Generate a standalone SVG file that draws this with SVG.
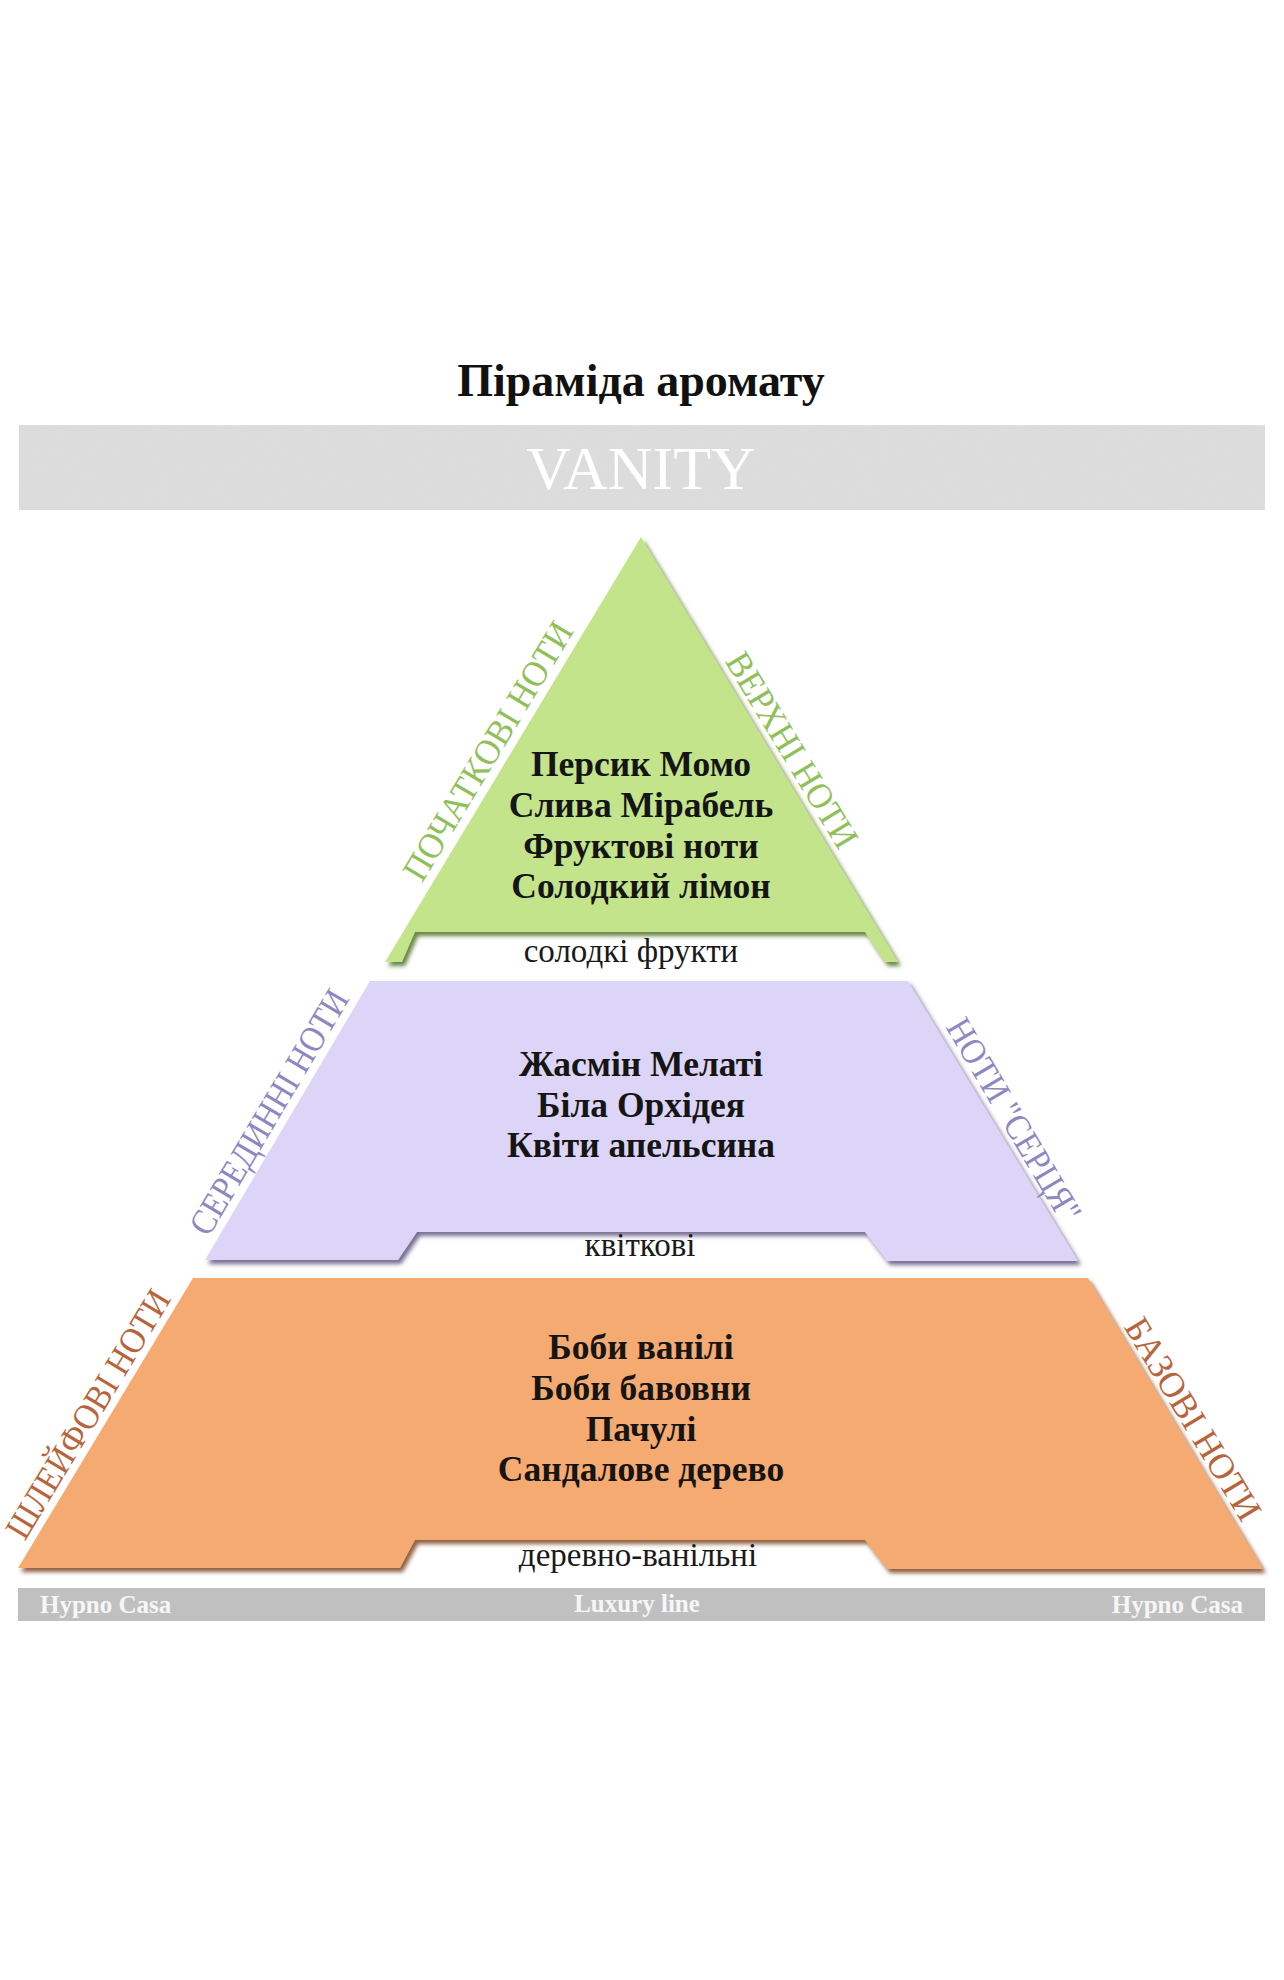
<svg xmlns="http://www.w3.org/2000/svg" width="1284" height="1980" viewBox="0 0 1284 1980">
<defs>
<style>
.title{font-family:"Liberation Serif",serif;font-weight:bold;font-size:46px;fill:#111;text-anchor:middle}
.brand{font-family:"Liberation Serif",serif;font-size:62px;fill:#fff;text-anchor:middle}
.notes{font-family:"Liberation Serif",serif;font-weight:bold;font-size:35.5px;fill:#151515;text-anchor:middle}
.sub{font-family:"Liberation Serif",serif;font-size:33px;fill:#1a1a1a;text-anchor:middle}
.side{font-family:"Liberation Serif",serif;font-size:36px;text-anchor:middle}
.foot{font-family:"Liberation Serif",serif;font-weight:bold;font-size:25px;fill:#f6f6f6}
</style>
<filter id="shG" x="-5%" y="-5%" width="115%" height="115%"><feDropShadow dx="3" dy="4" stdDeviation="2" flood-color="#4d6e26" flood-opacity="0.85"/></filter>
<filter id="shP" x="-5%" y="-5%" width="115%" height="115%"><feDropShadow dx="3" dy="4" stdDeviation="2" flood-color="#5f577f" flood-opacity="0.85"/></filter>
<filter id="shO" x="-5%" y="-5%" width="115%" height="115%"><feDropShadow dx="3" dy="4" stdDeviation="2" flood-color="#7a4220" flood-opacity="0.85"/></filter>
<filter id="noise" x="0" y="0" width="100%" height="100%">
<feTurbulence type="fractalNoise" baseFrequency="0.9" numOctaves="2" seed="3" result="n"/>
<feColorMatrix in="n" type="matrix" values="0 0 0 0 0.8  0 0 0 0 0.8  0 0 0 0 0.8  0 0 0 0.35 0" result="g"/>
<feComposite in="g" in2="SourceGraphic" operator="in" result="gi"/>
<feMerge><feMergeNode in="SourceGraphic"/><feMergeNode in="gi"/></feMerge>
</filter>
</defs>
<rect width="1284" height="1980" fill="#fff"/>

<g id="title">
<text class="title" x="641" y="396">Піраміда аромату</text>
</g>

<g id="banner">
<rect x="19" y="425" width="1246" height="85" fill="#dadada" filter="url(#noise)"/>
<text class="brand" x="641" y="489">VANITY</text>
</g>

<g id="top-notes">
<polygon points="641,537 898,962 885,962 865,932 415,932 402,962 385,962" fill="#c4e48b" filter="url(#shG)"/>
<text class="notes" x="641" y="776">Персик Момо</text>
<text class="notes" x="641" y="817">Слива Мірабель</text>
<text class="notes" x="641" y="858">Фруктові ноти</text>
<text class="notes" x="641" y="898">Солодкий лімон</text>
<text class="sub" x="631" y="962">солодкі фрукти</text>
<text class="side" fill="#8fc05a" transform="translate(488,751) rotate(-58.9)" y="12" textLength="295" lengthAdjust="spacingAndGlyphs">ПОЧАТКОВІ НОТИ</text>
<text class="side" fill="#8fc05a" transform="translate(792,750) rotate(58.9)" y="12" textLength="222" lengthAdjust="spacingAndGlyphs">ВЕРХНІ НОТИ</text>
</g>

<g id="heart-notes">
<polygon points="370,981 908,981 1078,1261 887,1261 865,1232 417,1232 398,1260 205,1260" fill="#ddd5f7" filter="url(#shP)"/>
<text class="notes" x="641" y="1076">Жасмін Мелаті</text>
<text class="notes" x="641" y="1117">Біла Орхідея</text>
<text class="notes" x="641" y="1157">Квіти апельсина</text>
<text class="sub" x="640" y="1256">квіткові</text>
<text class="side" fill="#8c88c2" transform="translate(269,1112) rotate(-59.4)" y="12" textLength="278" lengthAdjust="spacingAndGlyphs">СЕРЕДИННІ НОТИ</text>
<text class="side" fill="#8c88c2" transform="translate(1014,1120) rotate(59.4)" y="12" textLength="230" lengthAdjust="spacingAndGlyphs">НОТИ "СЕРЦЯ"</text>
</g>

<g id="base-notes">
<polygon points="193,1278 1088,1278 1263,1569 887,1569 865,1540 415,1540 400,1568 18,1568" fill="#f5aa71" filter="url(#shO)"/>
<text class="notes" x="641" y="1359">Боби ванілі</text>
<text class="notes" x="641" y="1400">Боби бавовни</text>
<text class="notes" x="641" y="1441">Пачулі</text>
<text class="notes" x="641" y="1481">Сандалове дерево</text>
<text class="sub" x="638" y="1566">деревно-ванільні</text>
<text class="side" fill="#b7653c" transform="translate(88,1414) rotate(-58.8)" y="12" textLength="284" lengthAdjust="spacingAndGlyphs">ШЛЕЙФОВІ НОТИ</text>
<text class="side" fill="#b7653c" transform="translate(1193,1419) rotate(58.8)" y="12" textLength="230" lengthAdjust="spacingAndGlyphs">БАЗОВІ НОТИ</text>
</g>

<g id="footer">
<rect x="18" y="1588" width="1247" height="33" fill="#c0c0c0"/>
<text class="foot" x="40" y="1613">Hypno Casa</text>
<text class="foot" x="637" y="1612" text-anchor="middle">Luxury line</text>
<text class="foot" x="1243" y="1613" text-anchor="end">Hypno Casa</text>
</g>
</svg>
